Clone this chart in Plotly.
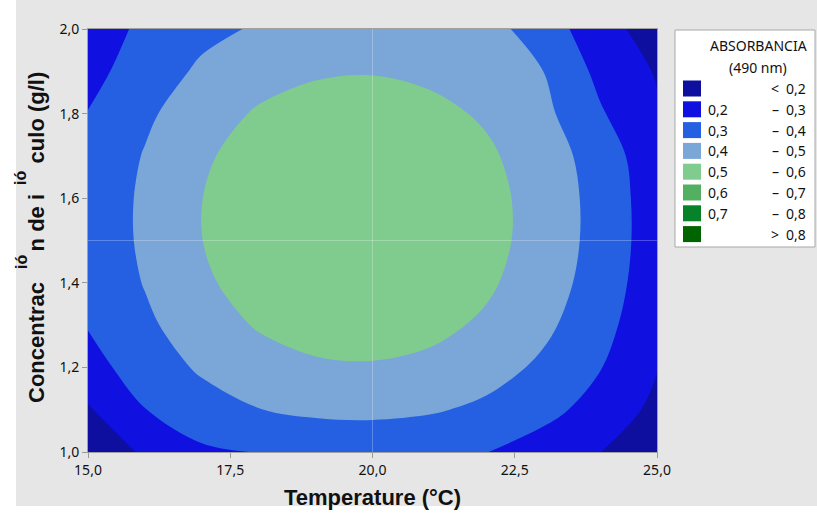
import plotly.graph_objects as go

# ---------------- data ----------------
temperature = [15, 16, 17, 18, 19, 20, 21, 22, 23, 24, 25]
concentration = [1.0, 1.1, 1.2, 1.3, 1.4, 1.5, 1.6, 1.7, 1.8, 1.9, 2.0]
absorbance = [
    [0.150, 0.210, 0.285, 0.303, 0.318, 0.322, 0.315, 0.302, 0.255, 0.201, 0.140],
    [0.190, 0.298, 0.357, 0.398, 0.420, 0.425, 0.411, 0.380, 0.330, 0.262, 0.176],
    [0.265, 0.346, 0.414, 0.461, 0.487, 0.492, 0.477, 0.440, 0.382, 0.304, 0.204],
    [0.305, 0.381, 0.456, 0.508, 0.537, 0.543, 0.526, 0.485, 0.422, 0.335, 0.225],
    [0.322, 0.405, 0.485, 0.540, 0.571, 0.577, 0.558, 0.515, 0.448, 0.356, 0.239],
    [0.330, 0.417, 0.499, 0.556, 0.588, 0.594, 0.575, 0.531, 0.461, 0.366, 0.246],
    [0.330, 0.417, 0.499, 0.556, 0.588, 0.594, 0.575, 0.531, 0.461, 0.366, 0.244],
    [0.322, 0.406, 0.486, 0.541, 0.572, 0.578, 0.559, 0.516, 0.449, 0.356, 0.232],
    [0.303, 0.382, 0.458, 0.510, 0.539, 0.545, 0.527, 0.487, 0.425, 0.310, 0.212],
    [0.270, 0.347, 0.416, 0.463, 0.489, 0.495, 0.479, 0.442, 0.400, 0.275, 0.192],
    [0.235, 0.325, 0.375, 0.410, 0.423, 0.428, 0.425, 0.430, 0.360, 0.230, 0.165],
]
levels_start, levels_end, levels_step = 0.2, 0.8, 0.1
band_colors = ["#0F0F9F", "#1010E0", "#2560E2", "#7BA6D8",
               "#80CC8F", "#52B060", "#088228", "#006400"]
legend_low = ["", "0,2", "0,3", "0,4", "0,5", "0,6", "0,7", ""]
legend_sym = ["<", "\u2013", "\u2013", "\u2013", "\u2013", "\u2013", "\u2013", ">"]
legend_high = ["0,2", "0,3", "0,4", "0,5", "0,6", "0,7", "0,8", "0,8"]
x_ticks = [15, 17.5, 20, 22.5, 25]
y_ticks = [1.0, 1.2, 1.4, 1.6, 1.8, 2.0]
ref_x, ref_y = 20, 1.5

# ---------------- layout geometry ----------------
W, H = 817, 514
L, R, T, B = 88, 657, 29, 452
pw, ph = R - L, B - T


def px(xp):
    return (xp - L) / pw


def py(yp):
    return (B - yp) / ph


n = len(band_colors)
colorscale = [[i / (n - 1), c] for i, c in enumerate(band_colors)]

fig = go.Figure()
fig.add_trace(go.Contour(
    x=temperature, y=concentration, z=absorbance,
    colorscale=colorscale, showscale=False,
    autocontour=False,
    contours=dict(start=levels_start, end=levels_end, size=levels_step, coloring="fill"),
    line=dict(width=0),
    hoverinfo="skip",
))

shapes = []
shapes.append(dict(type="rect", xref="paper", yref="paper", layer="below",
                   x0=px(16), x1=px(817), y0=py(0), y1=py(506),
                   fillcolor="#E6E6E6", line=dict(width=0)))
shapes.append(dict(type="line", xref="x", yref="paper", x0=ref_x, x1=ref_x, y0=0, y1=1,
                   line=dict(color="rgba(255,255,255,0.25)", width=1), layer="above"))
shapes.append(dict(type="line", xref="paper", yref="y", x0=0, x1=1, y0=ref_y, y1=ref_y,
                   line=dict(color="rgba(255,255,255,0.25)", width=1), layer="above"))
shapes.append(dict(type="rect", xref="paper", yref="paper",
                   x0=px(675), x1=px(815), y0=py(30), y1=py(247),
                   fillcolor="white", line=dict(color="#A8A8A8", width=1)))

annotations = []
leg_font = dict(family="Noto Sans, Open Sans, sans-serif", size=14, color="#111")
annotations.append(dict(text="ABSORBANCIA", x=px(758), y=py(45), xref="paper", yref="paper",
                        showarrow=False, font=leg_font, xanchor="center", yanchor="middle"))
annotations.append(dict(text="(490 nm)", x=px(758), y=py(67), xref="paper", yref="paper",
                        showarrow=False, font=leg_font, xanchor="center", yanchor="middle"))
row0, dy = 88.5, 20.8
for i, c in enumerate(band_colors):
    yc = row0 + i * dy
    shapes.append(dict(type="rect", xref="paper", yref="paper",
                       x0=px(683), x1=px(701), y0=py(yc - 8), y1=py(yc + 8),
                       fillcolor=c, line=dict(color=c, width=0)))
    if legend_low[i]:
        annotations.append(dict(text=legend_low[i], x=px(706), y=py(yc), xref="paper", yref="paper",
                                showarrow=False, font=dict(leg_font, size=14),
                                xanchor="left", yanchor="middle"))
    annotations.append(dict(text=legend_sym[i], x=px(775), y=py(yc), xref="paper", yref="paper",
                            showarrow=False, font=dict(leg_font, size=14),
                            xanchor="center", yanchor="middle"))
    annotations.append(dict(text=legend_high[i], x=px(808), y=py(yc), xref="paper", yref="paper",
                            showarrow=False, font=dict(leg_font, size=14),
                            xanchor="right", yanchor="middle"))

title_font = dict(family="Liberation Sans, Arial, sans-serif", size=22, color="#111")
nb = "\u00a0"
annotations.append(dict(text="<b>Temperature (°C)</b>", x=px(372), y=py(497), xref="paper",
                        yref="paper", showarrow=False, font=title_font,
                        xanchor="center", yanchor="middle"))
annotations.append(dict(text=f"<b>Concentrac{nb*5}n de i{nb*5}culo (g/l)</b>", x=px(36), y=py(238),
                        xref="paper", yref="paper", showarrow=False, font=title_font,
                        textangle=-90, xanchor="center", yanchor="middle"))
for yfrag in (262, 178):
    annotations.append(dict(text="<b>ió</b>", x=px(21), y=py(yfrag), xref="paper", yref="paper",
                            showarrow=False, font=dict(title_font, size=16), textangle=-90,
                            xanchor="center", yanchor="middle"))

tick_font = dict(family="Noto Sans, Open Sans, sans-serif", size=14, color="#111")
fig.update_layout(
    width=W, height=H,
    margin=dict(l=L, r=W - R, t=T, b=H - B),
    paper_bgcolor="white", plot_bgcolor="#E6E6E6",
    separators=",.",
    showlegend=False,
    shapes=shapes, annotations=annotations,
    xaxis=dict(range=[15, 25], tickvals=x_ticks, tickformat=".1f", ticks="outside",
               ticklen=5, tickcolor="#999", showline=True, linecolor="#A0A0A0", mirror=True,
               showgrid=False, zeroline=False, tickfont=tick_font),
    yaxis=dict(range=[1.0, 2.0], tickvals=y_ticks, tickformat=".1f", ticks="outside",
               ticklen=5, tickcolor="#999", showline=True, linecolor="#A0A0A0", mirror=True,
               showgrid=False, zeroline=False, tickfont=tick_font),
)
fig.write_html("out.html", config={"displayModeBar": False},
               post_script="document.body.style.margin='0';document.body.style.overflow='hidden';")
